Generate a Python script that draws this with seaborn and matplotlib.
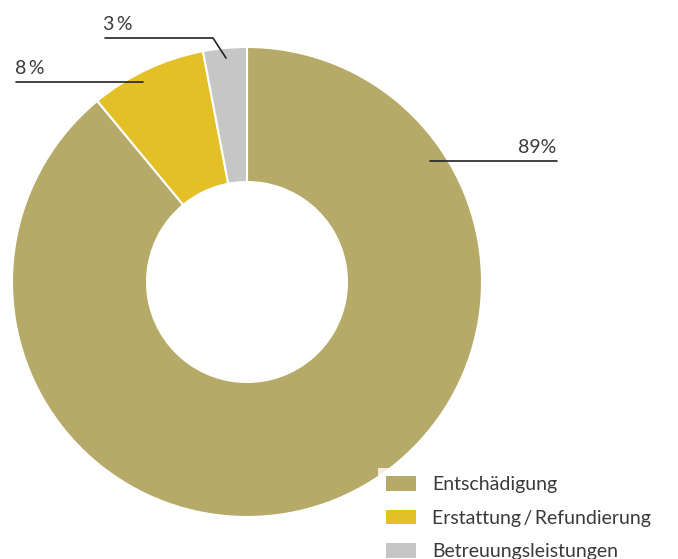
import matplotlib
matplotlib.use("Agg")
import matplotlib.pyplot as plt
import seaborn as sns

categories = ["Entschädigung", "Erstattung\u2009/\u2009Refundierung", "Betreuungsleistungen"]
shares = [89, 8, 3]
label_texts = ["89%", "8\u2009%", "3\u2009%"]
colors = ["#B5AA67", "#E2C026", "#C6C6C6"]

sns.set_theme(style="white")
plt.rcParams["font.family"] = ["Lato", "DejaVu Sans"]

W, H = 678, 559
fig = plt.figure(figsize=(W / 100, H / 100), dpi=100)
ax = fig.add_axes([0, 0, 1, 1])
ax.set_xlim(0, W)
ax.set_ylim(0, H)
ax.set_aspect("equal")
ax.axis("off")

cx, cy = 247, H - 282
r_out, r_in = 235, 100
wedges, _ = ax.pie(
    shares, colors=colors, startangle=90, counterclock=False,
    center=(cx, cy), radius=r_out,
    wedgeprops=dict(width=r_out - r_in, edgecolor="white", linewidth=1.5),
)
ax.set_xlim(0, W)
ax.set_ylim(0, H)

txt_color = "#3a3a3a"
line_kw = dict(color="#222222", linewidth=1.2)
fs = 14

# 89 %
ax.plot([430, 557], [H - 161, H - 161], **line_kw)
ax.text(556, H - 156, label_texts[0], ha="right", va="bottom", fontsize=fs, color=txt_color)
# 8 %
ax.plot([16, 143], [H - 82, H - 82], **line_kw)
ax.text(15, H - 77, label_texts[1], ha="left", va="bottom", fontsize=fs, color=txt_color)
# 3 %
ax.plot([105, 213, 226], [H - 38, H - 38, H - 58], **line_kw)
ax.text(103, H - 33, label_texts[2], ha="left", va="bottom", fontsize=fs, color=txt_color)

leg = ax.legend(
    wedges, categories, loc="upper left",
    bbox_to_anchor=(378 / W, 1 - 468 / H), bbox_transform=fig.transFigure,
    frameon=True, fontsize=fs, handlelength=1.55, handleheight=0.8,
    handletextpad=0.85, labelspacing=0.85, borderpad=0.4, borderaxespad=0,
)
leg.get_frame().set_facecolor("white")
leg.get_frame().set_edgecolor("none")
leg.get_frame().set_boxstyle("square", pad=0)
for t in leg.get_texts():
    t.set_color(txt_color)
for p in leg.get_patches():
    p.set_edgecolor("none")

fig.savefig("out.png", dpi=100)
